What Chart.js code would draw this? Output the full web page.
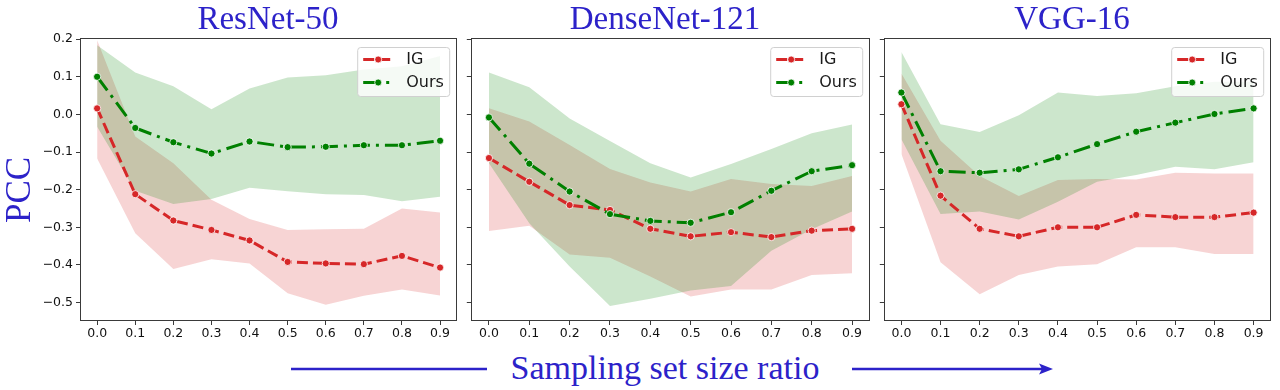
<!DOCTYPE html>
<html>
<head>
<meta charset="utf-8">
<script src="https://cdn.jsdelivr.net/npm/chart.js@4.4.1/dist/chart.umd.min.js"></script>
<style>
  html, body { margin: 0; padding: 0; background: #fff; }
  body { width: 1280px; height: 390px; position: relative; overflow: hidden; }
  .wrap { position: absolute; top: 0; }
  .title { position: absolute; top: 2px; font-family: 'Liberation Serif', 'Times New Roman', serif;
           color: #2c22c9; font-size: 33px; line-height: 33px; white-space: nowrap; transform: translateX(-50%); }
  #pcc { position: absolute; left: 18px; top: 190px; font-family: 'Liberation Serif', 'Times New Roman', serif;
         color: #2c22c9; font-size: 35px; line-height: 35px; white-space: nowrap;
         transform: translate(-50%, -50%) rotate(-90deg); }
  #xlabel { position: absolute; left: 665px; top: 351px; font-family: 'Liberation Serif', 'Times New Roman', serif;
            color: #2c22c9; font-size: 34px; line-height: 34px; white-space: nowrap; transform: translateX(-50%); }
  svg { position: absolute; left: 0; top: 0; }
</style>
</head>
<body>
<div class="wrap" style="left:0px"><canvas id="c1" width="462" height="344"></canvas></div>
<div class="wrap" style="left:466px"><canvas id="c2" width="409" height="344"></canvas></div>
<div class="wrap" style="left:879px"><canvas id="c3" width="397" height="344"></canvas></div>

<div class="title" style="left:268px">ResNet-50</div>
<div class="title" style="left:665px">DenseNet-121</div>
<div class="title" style="left:1072px">VGG-16</div>
<div id="pcc">PCC</div>
<div id="xlabel">Sampling set size ratio</div>
<svg width="1280" height="390">
  <line x1="291" y1="369" x2="487" y2="369" stroke="#2c22c9" stroke-width="2.6"/>
  <line x1="852" y1="369" x2="1044" y2="369" stroke="#2c22c9" stroke-width="2.6"/>
  <polygon points="1039,363.5 1053,369 1039,374.5 1042,369" fill="#2c22c9"/>
</svg>

<script>
// ---------- data ----------
const ratios = [0.0, 0.1, 0.2, 0.3, 0.4, 0.5, 0.6, 0.7, 0.8, 0.9];
const xTicks = [0.0, 0.1, 0.2, 0.3, 0.4, 0.5, 0.6, 0.7, 0.8, 0.9];
const yTicks = [-0.5, -0.4, -0.3, -0.2, -0.1, 0.0, 0.1, 0.2];
const panelTitles = ['ResNet-50', 'DenseNet-121', 'VGG-16'];
const seriesNames = ['IG', 'Ours'];

// ResNet-50
const resnetIG      = [0.016, -0.212, -0.282, -0.307, -0.335, -0.392, -0.396, -0.398, -0.376, -0.407];
const resnetIGHi    = [0.197, -0.059, -0.130, -0.227, -0.278, -0.307, -0.305, -0.304, -0.250, -0.261];
const resnetIGLo    = [-0.117, -0.316, -0.411, -0.385, -0.396, -0.475, -0.506, -0.482, -0.465, -0.481];
const resnetOurs    = [0.100, -0.036, -0.074, -0.104, -0.072, -0.087, -0.086, -0.082, -0.082, -0.070];
const resnetOursHi  = [0.184, 0.111, 0.075, 0.014, 0.069, 0.098, 0.104, 0.119, 0.128, 0.155];
const resnetOursLo  = [-0.033, -0.203, -0.238, -0.225, -0.195, -0.204, -0.212, -0.214, -0.231, -0.219];

// DenseNet-121
const densenetIG     = [-0.116, -0.179, -0.241, -0.254, -0.304, -0.324, -0.313, -0.326, -0.309, -0.304];
const densenetIGHi   = [0.016, -0.019, -0.081, -0.145, -0.181, -0.205, -0.172, -0.185, -0.190, -0.164];
const densenetIGLo   = [-0.310, -0.296, -0.372, -0.381, -0.431, -0.484, -0.465, -0.465, -0.427, -0.422];
const densenetOurs   = [-0.008, -0.131, -0.205, -0.265, -0.283, -0.288, -0.260, -0.203, -0.151, -0.135];
const densenetOursHi = [0.111, 0.072, -0.011, -0.071, -0.130, -0.168, -0.132, -0.092, -0.050, -0.027];
const densenetOursLo = [-0.130, -0.289, -0.404, -0.509, -0.490, -0.468, -0.456, -0.362, -0.305, -0.258];

// VGG-16
const vggIG     = [0.027, -0.216, -0.304, -0.324, -0.300, -0.300, -0.267, -0.273, -0.273, -0.261];
const vggIGHi   = [0.109, -0.070, -0.164, -0.217, -0.174, -0.172, -0.173, -0.155, -0.157, -0.157];
const vggIGLo   = [-0.105, -0.393, -0.478, -0.427, -0.404, -0.398, -0.353, -0.353, -0.371, -0.371];
const vggOurs   = [0.058, -0.151, -0.155, -0.146, -0.114, -0.079, -0.046, -0.022, 0.001, 0.016];
const vggOursHi = [0.166, -0.026, -0.047, -0.002, 0.058, 0.049, 0.056, 0.075, 0.087, 0.087];
const vggOursLo = [-0.066, -0.265, -0.258, -0.279, -0.232, -0.179, -0.161, -0.139, -0.146, -0.127];

// ---------- styling ----------
const RED = '#d62728', RED_FILL = 'rgba(214,39,40,0.2)';
const GREEN = '#008000', GREEN_FILL = 'rgba(0,128,0,0.2)';
const IG_DASH = [11, 5];
const OURS_DASH = [17, 6, 3, 6];
const LW = 3;
const SPINE = '#3a3a3a';

const pts = arr => ratios.map((x, i) => ({ x: x, y: arr[i] }));

function fmtY(v) {
  const r = Math.round(v * 10) / 10;
  if (Math.abs(r) < 1e-9) return '0.0';
  return r < 0 ? '\u2212' + Math.abs(r).toFixed(1) : r.toFixed(1);
}

const framePlugin = {
  id: 'frameAndLegend',
  afterDatasetsDraw(chart) {
    const ctx = chart.ctx, a = chart.chartArea;
    // legend
    const w = 92, h = 49;
    const bx = a.right - 8 - w, by = a.top + 9;
    ctx.save();
    ctx.beginPath();
    if (ctx.roundRect) ctx.roundRect(bx + 0.5, by + 0.5, w, h, 3); else ctx.rect(bx + 0.5, by + 0.5, w, h);
    ctx.fillStyle = 'rgba(255,255,255,0.8)';
    ctx.fill();
    ctx.strokeStyle = '#d0d0d0';
    ctx.lineWidth = 1;
    ctx.stroke();
    const rows = [
      { name: seriesNames[0], color: RED, dash: IG_DASH, y: by + 12.5 },
      { name: seriesNames[1], color: GREEN, dash: OURS_DASH, y: by + 35.5 }
    ];
    rows.forEach(r => {
      ctx.beginPath();
      ctx.setLineDash(r.dash);
      ctx.strokeStyle = r.color;
      ctx.lineWidth = LW;
      ctx.moveTo(bx + 6, r.y);
      ctx.lineTo(bx + 38, r.y);
      ctx.stroke();
      ctx.setLineDash([]);
      ctx.beginPath();
      ctx.arc(bx + 21, r.y, 3.5, 0, Math.PI * 2);
      ctx.fillStyle = r.color;
      ctx.fill();
      ctx.strokeStyle = '#fff';
      ctx.lineWidth = 0.8;
      ctx.stroke();
      ctx.fillStyle = '#1a1a1a';
      ctx.font = '16px "DejaVu Sans"';
      ctx.textBaseline = 'middle';
      ctx.textAlign = 'left';
      ctx.fillText(r.name, bx + 49, r.y + 0.5);
    });
    // frame
    ctx.strokeStyle = SPINE;
    ctx.lineWidth = 1;
    ctx.strokeRect(Math.round(a.left) + 0.5, Math.round(a.top) + 0.5,
                   Math.round(a.right - a.left) - 1, Math.round(a.bottom - a.top) - 1);
    ctx.restore();
  }
};

function makeChart(id, d, showY, yAxisWidth) {
  const datasets = [
    { data: pts(d.ours), borderColor: GREEN, backgroundColor: GREEN, borderDash: OURS_DASH,
      borderWidth: LW, pointRadius: 3.6, pointBackgroundColor: GREEN, pointBorderColor: '#fff',
      pointBorderWidth: 0.8, fill: false, tension: 0, order: 0 },
    { data: pts(d.ig), borderColor: RED, backgroundColor: RED, borderDash: IG_DASH,
      borderWidth: LW, pointRadius: 3.6, pointBackgroundColor: RED, pointBorderColor: '#fff',
      pointBorderWidth: 0.8, fill: false, tension: 0, order: 1 },
    { data: pts(d.oursHi), borderWidth: 0, pointRadius: 0, backgroundColor: GREEN_FILL,
      borderColor: 'rgba(0,0,0,0)', fill: '+1', order: 2 },
    { data: pts(d.oursLo), borderWidth: 0, pointRadius: 0, borderColor: 'rgba(0,0,0,0)', fill: false, order: 3 },
    { data: pts(d.igHi), borderWidth: 0, pointRadius: 0, backgroundColor: RED_FILL,
      borderColor: 'rgba(0,0,0,0)', fill: '+1', order: 4 },
    { data: pts(d.igLo), borderWidth: 0, pointRadius: 0, borderColor: 'rgba(0,0,0,0)', fill: false, order: 5 }
  ];
  return new Chart(document.getElementById(id), {
    type: 'line',
    data: { datasets },
    options: {
      responsive: false,
      animation: false,
      devicePixelRatio: 1,
      layout: { padding: { top: 38, right: 4, left: 0, bottom: 0 } },
      plugins: { legend: { display: false }, tooltip: { enabled: false }, title: { display: false },
                 filler: { propagate: false } },
      scales: {
        x: {
          type: 'linear', min: -0.045, max: 0.945,
          afterBuildTicks: ax => { ax.ticks = xTicks.map(v => ({ value: v })); },
          afterFit: ax => { ax.height = 23; },
          ticks: { callback: v => v.toFixed(1), color: '#111', padding: 1, maxRotation: 0, autoSkip: false,
                   font: { family: 'DejaVu Sans', size: 12.5 } },
          grid: { drawOnChartArea: false, drawTicks: true, tickLength: 4, color: SPINE },
          border: { display: false }
        },
        y: {
          type: 'linear', min: -0.549, max: 0.203,
          afterBuildTicks: ax => { ax.ticks = yTicks.map(v => ({ value: v })); },
          afterFit: ax => { ax.width = yAxisWidth; },
          ticks: { display: showY, callback: v => fmtY(v), color: '#111', padding: 3,
                   font: { family: 'DejaVu Sans', size: 12.5 } },
          grid: { drawOnChartArea: false, drawTicks: true, tickLength: 4, color: SPINE },
          border: { display: false }
        }
      }
    },
    plugins: [framePlugin]
  });
}

makeChart('c1', { ig: resnetIG, igHi: resnetIGHi, igLo: resnetIGLo,
                  ours: resnetOurs, oursHi: resnetOursHi, oursLo: resnetOursLo }, true, 80);
makeChart('c2', { ig: densenetIG, igHi: densenetIGHi, igLo: densenetIGLo,
                  ours: densenetOurs, oursHi: densenetOursHi, oursLo: densenetOursLo }, false, 4);
makeChart('c3', { ig: vggIG, igHi: vggIGHi, igLo: vggIGLo,
                  ours: vggOurs, oursHi: vggOursHi, oursLo: vggOursLo }, false, 4);
</script>
</body>
</html>
